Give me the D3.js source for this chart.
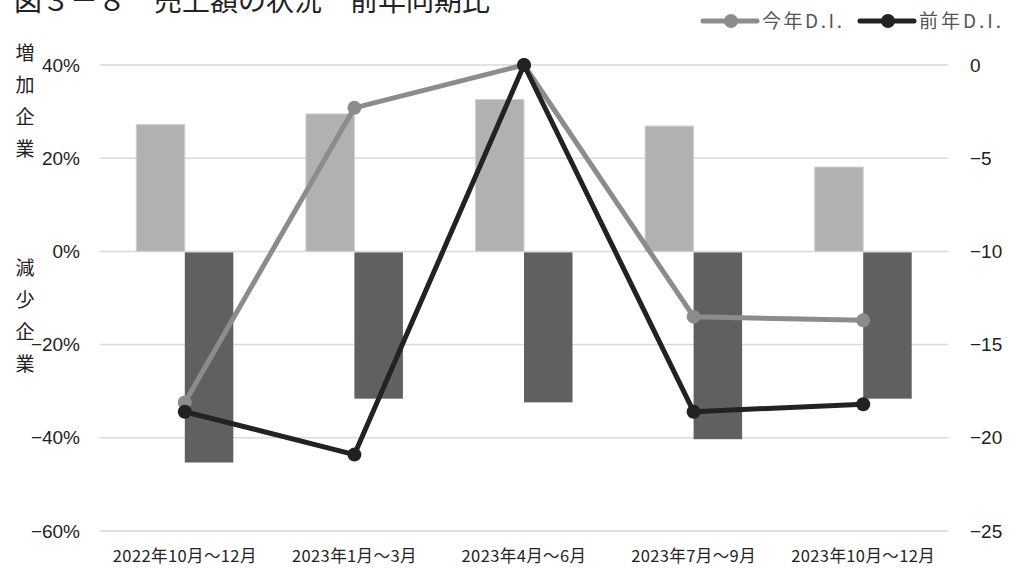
<!DOCTYPE html>
<html><head><meta charset="utf-8">
<script src="https://cdn.jsdelivr.net/npm/d3@7"></script>
<style>
html,body{margin:0;padding:0;background:#fff;}
svg{display:block;}
</style></head>
<body>
<svg id="chart" width="1009" height="568"></svg>
<script>
const title = "図３－８　売上額の状況　前年同期比";
const categories = ["2022年10月～12月","2023年1月～3月","2023年4月～6月","2023年7月～9月","2023年10月～12月"];
const increase = [27.2, 29.5, 32.6, 26.9, 18.1];
const decrease = [-45.3, -31.6, -32.4, -40.3, -31.6];
const thisYearDI = [-18.1, -2.3, 0.0, -13.5, -13.7];
const lastYearDI = [-18.6, -20.9, 0.0, -18.6, -18.2];
const leftTicks = [40, 20, 0, -20, -40, -60];
const rightTicks = [0, -5, -10, -15, -20, -25];
const seriesNames = ["今年D.I.", "前年D.I."];

(function () {
const svg = d3.select("#chart");
const pL = 100, pR = 948, pT = 65, pB = 531;
const font = "'Liberation Sans','Noto Sans CJK JP',sans-serif";
const cjk = "'Noto Sans CJK JP',sans-serif";

const x = d3.scaleBand().domain(categories).range([pL, pR]).paddingInner(0.428).paddingOuter(0.214);
const x1 = d3.scaleBand().domain(["inc","dec"]).range([0, x.bandwidth()]);
const yL = d3.scaleLinear().domain([-60, 40]).range([pB, pT]);
const yR = d3.scaleLinear().domain([-25, 0]).range([pB, pT]);
const cx = c => x(c) + x.bandwidth()/2;

// gridlines
svg.append("g").selectAll("line").data(leftTicks).join("line")
  .attr("x1", pL).attr("x2", pR)
  .attr("y1", d => yL(d)).attr("y2", d => yL(d))
  .attr("stroke", "#d9d9d9").attr("stroke-width", 1.5);

// left axis
const axL = svg.append("g").attr("transform", `translate(${pL},0)`)
  .call(d3.axisLeft(yL).tickValues(leftTicks).tickSize(0).tickPadding(20).tickFormat(d => (d<0?"−":"") + Math.abs(d) + "%"));
axL.select(".domain").remove();
axL.selectAll("text").attr("font-family", font).attr("font-size", 19).attr("fill", "#222");

// right axis
const axR = svg.append("g").attr("transform", `translate(${pR},0)`)
  .call(d3.axisRight(yR).tickValues(rightTicks).tickSize(0).tickPadding(22).tickFormat(d => (d<0?"−":"") + Math.abs(d)));
axR.select(".domain").remove();
axR.selectAll("text").attr("font-family", font).attr("font-size", 19).attr("fill", "#222");

// x axis labels
const axX = svg.append("g").attr("transform", `translate(0,${pB})`)
  .call(d3.axisBottom(x).tickSize(0).tickPadding(19));
axX.select(".domain").remove();
axX.selectAll("text").attr("font-family", cjk).attr("font-size", 16.5)
  .attr("letter-spacing", 0.4).attr("fill", "#222");

// bars
svg.append("g").selectAll("rect").data(categories).join("rect")
  .attr("x", c => x(c) + x1("inc")).attr("width", x1.bandwidth())
  .attr("y", (c,i) => yL(increase[i])).attr("height", (c,i) => yL(0) - yL(increase[i]))
  .attr("fill", "#b1b1b1").attr("stroke", "#d0d0d0").attr("stroke-width", 1);
svg.append("g").selectAll("rect").data(categories).join("rect")
  .attr("x", c => x(c) + x1("dec")).attr("width", x1.bandwidth())
  .attr("y", yL(0) + 1).attr("height", (c,i) => yL(decrease[i]) - yL(0) - 1)
  .attr("fill", "#606060");

// lines
function drawLine(vals, color) {
  const pts = categories.map((c,i) => [cx(c), yR(vals[i])]);
  svg.append("path").attr("d", d3.line()(pts)).attr("fill", "none")
    .attr("stroke", color).attr("stroke-width", 5).attr("stroke-linejoin", "round");
  svg.append("g").selectAll("circle").data(pts).join("circle")
    .attr("cx", d => d[0]).attr("cy", d => d[1]).attr("r", 7).attr("fill", color);
}
drawLine(thisYearDI, "#8c8c8c");
drawLine(lastYearDI, "#222222");

// title (cut off at the top, as in the original)
svg.append("text").attr("x", 14).attr("y", 11).text(title)
  .attr("font-family", cjk).attr("font-size", 28).attr("fill", "#222");

// vertical axis labels
const vlab = (txt, y0) => txt.split("").forEach((ch, i) =>
  svg.append("text").attr("x", 25).attr("y", y0 + i*32).attr("text-anchor", "middle")
    .attr("font-family", cjk).attr("font-size", 19).attr("fill", "#222").text(ch));
vlab("増加企業", 60);
vlab("減少企業", 275);

// legend
const legend = [{name: seriesNames[0], color: "#8c8c8c", x0: 703, w: 80}, {name: seriesNames[1], color: "#222222", x0: 860, w: 82}];
legend.forEach(l => {
  svg.append("line").attr("x1", l.x0).attr("x2", l.x0 + 54).attr("y1", 21).attr("y2", 21)
    .attr("stroke", l.color).attr("stroke-width", 5).attr("stroke-linecap", "round");
  svg.append("circle").attr("cx", l.x0 + 28).attr("cy", 21).attr("r", 7).attr("fill", l.color);
  svg.append("text").attr("x", l.x0 + 59).attr("y", 28).text(l.name)
    .attr("textLength", l.w).attr("lengthAdjust", "spacing")
    .attr("font-family", cjk).attr("font-size", 19).attr("fill", "#555");
});
})();
</script>
</body></html>
